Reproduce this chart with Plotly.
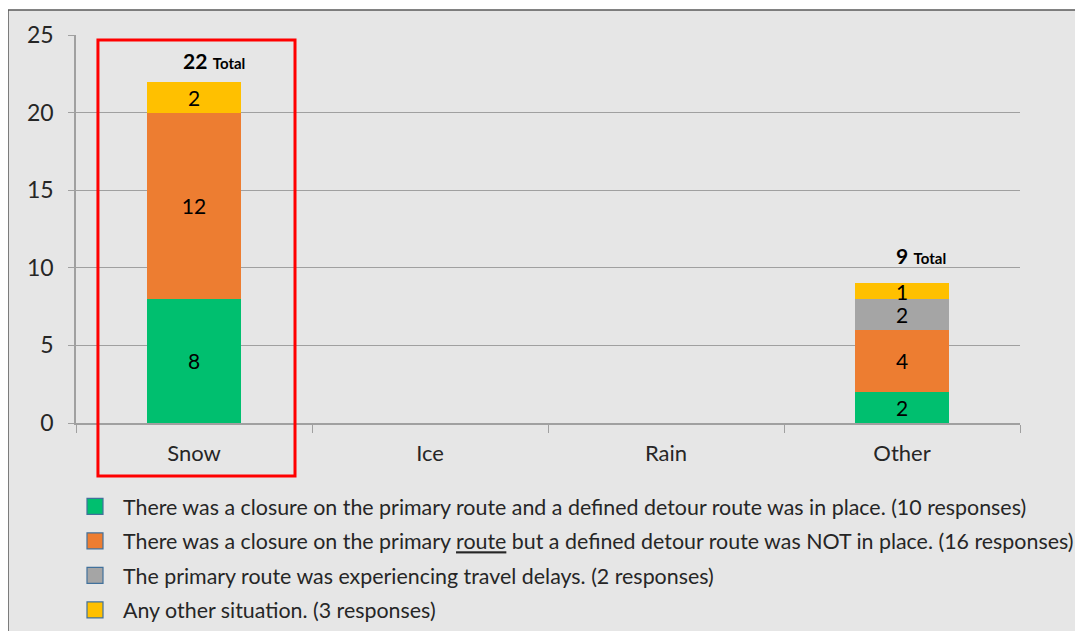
import plotly.graph_objects as go

categories = ["Snow", "Ice", "Rain", "Other"]
series_names = [
    "There was a closure on the primary route and a defined detour route was in place. (10 responses)",
    "There was a closure on the primary <span style='text-decoration:underline double #4472c4'>route</span> but a defined detour route was NOT in place. (16 responses)",
    "The primary route was experiencing travel delays. (2 responses)",
    "Any other situation. (3 responses)",
]
closure_with_detour = [8, 0, 0, 2]
closure_no_detour = [12, 0, 0, 4]
travel_delays = [0, 0, 0, 2]
other_situation = [2, 0, 0, 1]
series_values = [closure_with_detour, closure_no_detour, travel_delays, other_situation]
colors = ["#00bf6f", "#ed7d31", "#a5a5a5", "#ffc000"]
y_ticks = [0, 5, 10, 15, 20, 25]

FONT = "Lato"
OFF = 8  # browser body margin
W, H = 1083 - OFF, 631 - OFF
ML, MT = 76 - OFF, 35 - OFF
MR = W - (1020 - OFF)
MB = H - (423 - OFF)
pw = W - ML - MR
ph = H - MT - MB


def px_x(p):  # page pixel -> paper x
    return (p - OFF - ML) / pw


def px_y(p):  # page pixel -> paper y
    return (H - MB - (p - OFF)) / ph


fig = go.Figure()
for vals, col in zip(series_values, colors):
    fig.add_trace(go.Bar(
        x=categories, y=vals, marker=dict(color=col, line=dict(width=0)),
        text=[str(v) if v else "" for v in vals], textposition="inside",
        insidetextanchor="middle", constraintext="none", textangle=0,
        textfont=dict(family=FONT, size=21, color="#000000"),
        showlegend=False, hoverinfo="skip",
    ))

for i, (name, col) in enumerate(zip(series_names, colors)):
    fig.add_trace(go.Scatter(
        x=[None], y=[None], mode="markers", name=name, legendgroup=str(i),
        marker=dict(symbol="square", size=16, color=col, line=dict(color="#41719c", width=1.2)),
    ))

totals = [sum(v) for v in zip(*series_values)]
total_xshift = [-13, 0, 0, -8]
total_yshift = [7, 0, 0, 13]
for cat, t, xs, ys in zip(categories, totals, total_xshift, total_yshift):
    if t > 0:
        fig.add_annotation(
            x=cat, y=t, xref="x", yref="y", showarrow=False,
            text=f"<b>{t}</b> <b><span style='font-size:15px'>Total</span></b>",
            font=dict(family=FONT, size=21, color="#000000"),
            xanchor="left", yanchor="bottom", xshift=xs, yshift=ys,
        )

# background frame
fig.add_shape(type="rect", xref="paper", yref="paper", layer="below",
              x0=px_x(8), x1=px_x(1100), y0=px_y(660), y1=px_y(10),
              fillcolor="#e6e6e6", line=dict(color="#595959", width=1.5))
# red highlight box around Snow
fig.add_shape(type="rect", xref="x", yref="paper",
              x0=-0.407, x1=0.428, y0=px_y(476), y1=px_y(40),
              line=dict(color="#ff0000", width=3), fillcolor="rgba(0,0,0,0)")

fig.update_layout(
    width=W, height=H, barmode="stack", bargap=0.6,
    margin=dict(l=ML, r=MR, t=MT, b=MB, pad=0, autoexpand=False),
    paper_bgcolor="#ffffff", plot_bgcolor="rgba(0,0,0,0)",
    font=dict(family=FONT, size=21, color="#262626"),
    xaxis=dict(type="category", tickson="boundaries", ticks="outside", ticklen=8,
               tickcolor="#a0a0a0", showline=True, linecolor="#a0a0a0", linewidth=1.5,
               showgrid=False, tickfont=dict(family=FONT, size=22, color="#262626"),
               ticklabelstandoff=10, range=[-0.5, 3.5]),
    yaxis=dict(range=[0, 25], tickvals=y_ticks, ticks="outside", ticklen=6,
               tickcolor="#a0a0a0", showline=True, linecolor="#a0a0a0", linewidth=1.5,
               gridcolor="#a0a0a0", gridwidth=1.2, zeroline=False,
               ticklabelstandoff=10,
               tickfont=dict(family=FONT, size=23, color="#262626")),
    legend=dict(xref="container", yref="container",
                x=(67 - OFF) / W, y=(H - (486 - OFF)) / H, xanchor="left", yanchor="top",
                orientation="v", bgcolor="rgba(0,0,0,0)", traceorder="grouped",
                tracegroupgap=3.7, itemwidth=46,
                font=dict(family=FONT, size=21.4, color="#262626")),
)

fig.write_html("out.html")
